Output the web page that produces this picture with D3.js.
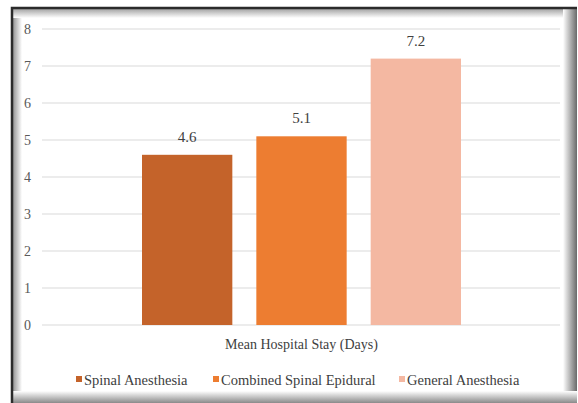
<!DOCTYPE html>
<html>
<head>
<meta charset="utf-8">
<script src="https://cdn.jsdelivr.net/npm/d3@7"></script>
<style>
  body { margin: 0; background: #fff; }
</style>
</head>
<body>
<div class="chart"></div>
<script>
// data
const category = "Mean Hospital Stay (Days)";
const series = ["Spinal Anesthesia", "Combined Spinal Epidural", "General Anesthesia"];
const values = [4.6, 5.1, 7.2];
const colors = ["#C4632A", "#ED7D31", "#F4B8A2"];
const yTicks = [0, 1, 2, 3, 4, 5, 6, 7, 8];

const FONT = "'Liberation Serif'";
const W = 578, H = 403;
const margin = {top: 29, right: 18, bottom: 78, left: 42},
  width = W - margin.left - margin.right,
  height = H - margin.top - margin.bottom;

const root = d3.select(".chart").append("svg")
  .attr("width", W)
  .attr("height", H);

// frame with soft inner shadow
const defs = root.append("defs");
function grad(id, x1, y1, x2, y2, c1, c2) {
  const g = defs.append("linearGradient").attr("id", id)
    .attr("x1", x1).attr("y1", y1).attr("x2", x2).attr("y2", y2);
  g.append("stop").attr("offset", "0%").attr("stop-color", c1);
  g.append("stop").attr("offset", "100%").attr("stop-color", c2);
}
grad("gl", 0, 0, 1, 0, "#8a8a8a", "#fff");
grad("gt", 0, 0, 0, 1, "#9a9a9a", "#fff");
grad("gr", 0, 0, 1, 0, "#fff", "#6a6a6a");
grad("gb", 0, 0, 0, 1, "#fff", "#8a8a8a");

root.append("rect").attr("x", 0).attr("y", 0).attr("width", W).attr("height", H).attr("fill", "#fff");
root.append("rect").attr("x", 12).attr("y", 8).attr("width", 10).attr("height", 393).attr("fill", "url(#gl)");
root.append("rect").attr("x", 12).attr("y", 8).attr("width", 564).attr("height", 10).attr("fill", "url(#gt)");
root.append("rect").attr("x", 563).attr("y", 8).attr("width", 14).attr("height", 395).attr("fill", "url(#gr)");
root.append("rect").attr("x", 12).attr("y", 391).attr("width", 565).attr("height", 12).attr("fill", "url(#gb)");
root.append("path")
  .attr("d", "M12,403 V8 H577")
  .attr("fill", "none").attr("stroke", "#2b2b2b").attr("stroke-width", 2.5);

const svg = root.append("g")
  .attr("transform", "translate(" + margin.left + "," + margin.top + ")");

const xInner = d3.scaleBand().domain(series)
  .range([100, 100 + 319]).paddingInner(0.21);
const yScale = d3.scaleLinear().domain([0, 8]).range([height, 0]);

// gridlines
svg.append("g")
  .selectAll("line")
  .data(yTicks)
  .enter().append("line")
  .attr("x1", 0).attr("x2", width)
  .attr("y1", d => yScale(d)).attr("y2", d => yScale(d))
  .attr("stroke", "#d9d9d9").attr("stroke-width", 1);

// y axis labels
const yaxis = svg.append("g").call(d3.axisLeft(yScale).tickValues(yTicks).tickSize(0).tickPadding(11));
yaxis.select(".domain").remove();
yaxis.selectAll("text")
  .style("font-family", FONT)
  .attr("font-size", 14).attr("fill", "#595959");

// bars
svg.selectAll(".bar")
  .data(series)
  .enter().append("rect")
  .attr("class", "bar")
  .attr("x", d => xInner(d))
  .attr("width", xInner.bandwidth())
  .attr("y", (d, i) => yScale(values[i]))
  .attr("height", (d, i) => height - yScale(values[i]))
  .attr("fill", (d, i) => colors[i]);

// value labels
svg.selectAll(".lbl")
  .data(series)
  .enter().append("text")
  .attr("class", "lbl")
  .attr("text-anchor", "middle")
  .attr("x", d => xInner(d) + xInner.bandwidth() / 2)
  .attr("y", (d, i) => yScale(values[i]) - 13)
  .style("font-family", FONT)
  .attr("font-size", 15).attr("fill", "#404040")
  .text((d, i) => values[i]);

// category label
svg.append("text")
  .attr("text-anchor", "middle")
  .attr("x", xInner.range()[0] + (xInner.range()[1] - xInner.range()[0]) / 2)
  .attr("y", height + 24)
  .style("font-family", FONT)
  .attr("font-size", 14).attr("fill", "#404040")
  .text(category);

// legend
const legendX = [76, 213, 399];
const legend = root.append("g");
series.forEach((s, i) => {
  legend.append("rect")
    .attr("x", legendX[i]).attr("y", 376)
    .attr("width", 6).attr("height", 6)
    .attr("fill", colors[i]);
  legend.append("text")
    .attr("x", legendX[i] + 8).attr("y", 385)
    .style("font-family", FONT)
    .attr("font-size", 14.5).attr("fill", "#404040")
    .text(s);
});
</script>
</body>
</html>
